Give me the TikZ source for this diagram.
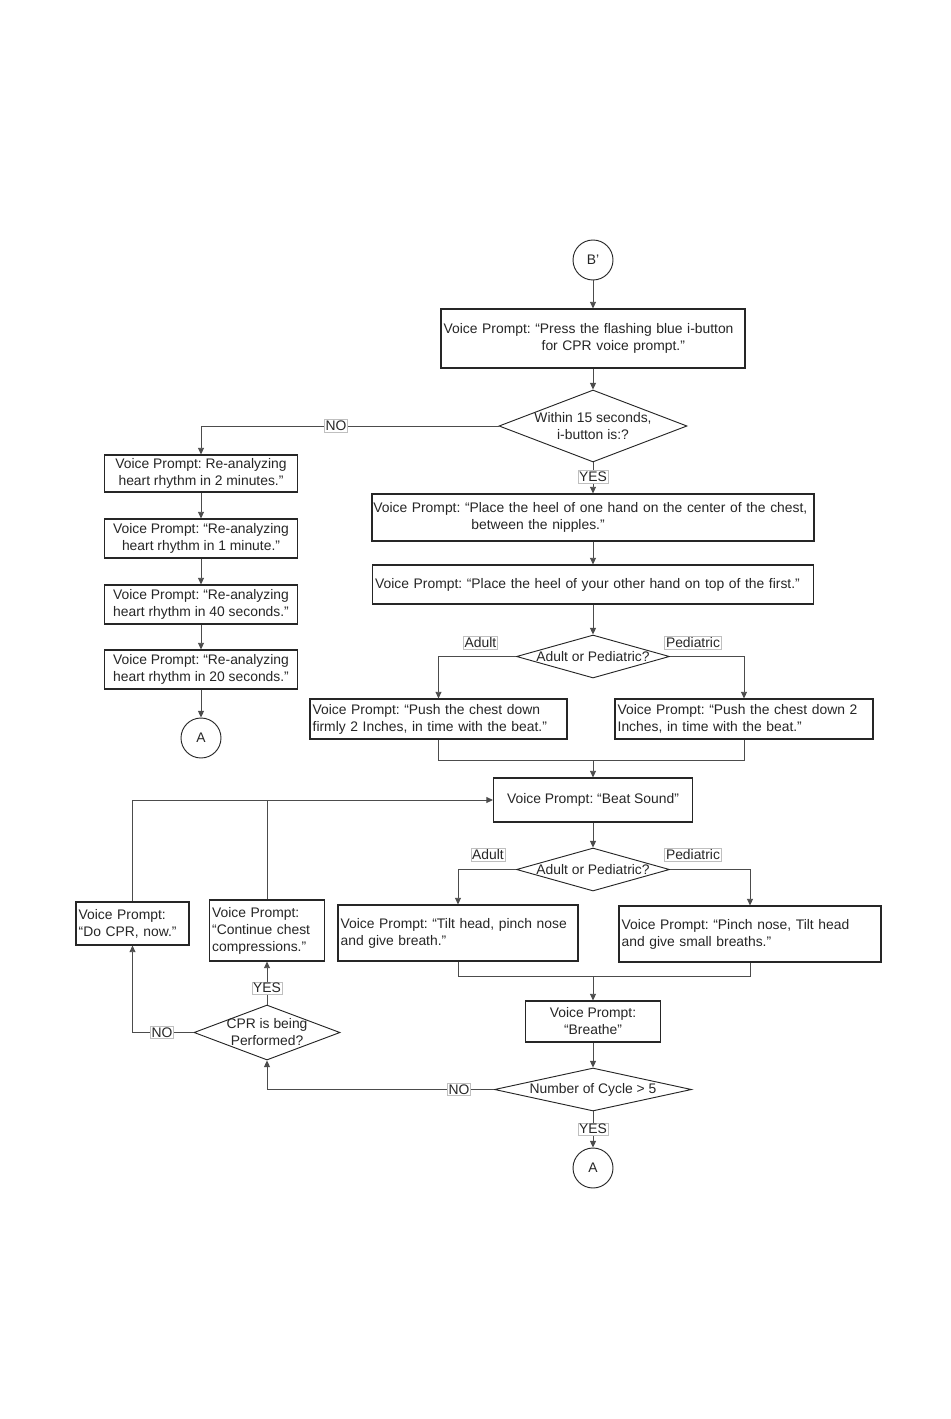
\documentclass[tikz,border=0pt]{standalone}
\usepackage{fontspec}
\setmainfont{Liberation Sans}
\usetikzlibrary{shapes.geometric,arrows.meta}
\frenchspacing
\begin{document}
\begin{tikzpicture}[x=0.75pt,y=-0.75pt,
  font=\fontsize{10.4}{12.75}\selectfont\frenchspacing,
  every node/.style={text=black!85},
  box/.style={draw=black!85, line width=0.8pt, fill=white, inner xsep=2pt, inner ysep=1pt},
  lbox/.style={box, align=left},
  cbox/.style={box, align=center},
  dia/.style={draw=black!85, line width=0.7pt, diamond, inner sep=0pt},
  circ/.style={draw=black!85, line width=0.7pt, circle, minimum size=30pt, inner sep=0pt},
  conn/.style={draw=black!70, line width=0.7pt},
  arr/.style={conn, -{Triangle[width=4.5pt,length=5pt]}},
  tag/.style={draw=black!25, line width=0.4pt, fill=white, inner sep=1pt},
]
\useasboundingbox (0,0) rectangle (950,1419);

% ---- nodes ----
\node[circ] (bp) at (593,260) {B'};
\node[lbox, minimum width=228pt, minimum height=44.25pt, text width=224pt] (b1) at (593,338.5)
  {Voice Prompt: “Press the flashing blue i-button\\\hspace*{73.5pt}for CPR voice prompt.”};
\node[dia, minimum width=141pt, minimum height=54pt] (d1) at (593,426) {};
\node[align=center] (d1t) at (d1) {Within 15 seconds,\\i-button is:?};

\node[cbox, minimum width=144.75pt, minimum height=27.75pt] (l1) at (201,473.5)
  {Voice Prompt: Re-analyzing\\heart rhythm in 2 minutes.”};
\node[cbox, minimum width=144.75pt, minimum height=29.25pt] (l2) at (201,538.5)
  {Voice Prompt: “Re-analyzing\\heart rhythm in 1 minute.”};
\node[cbox, minimum width=144.75pt, minimum height=29.25pt] (l3) at (201,604.5)
  {Voice Prompt: “Re-analyzing\\heart rhythm in 40 seconds.”};
\node[cbox, minimum width=144.75pt, minimum height=29.25pt] (l4) at (201,669.5)
  {Voice Prompt: “Re-analyzing\\heart rhythm in 20 seconds.”};
\node[circ] (a1) at (201,738) {A};

\node[lbox, minimum width=331.5pt, minimum height=35.25pt, text width=329.5pt, inner xsep=1pt] (b2) at (593,517.5)
  {Voice Prompt: “Place the heel of one hand on the center of the chest,\\\hspace*{73.5pt}between the nipples.”};
\node[lbox, minimum width=330.75pt, minimum height=29.25pt, text width=326.75pt] (b3) at (593,584.5)
  {Voice Prompt: “Place the heel of your other hand on top of the first.”};
\node[dia, minimum width=114.75pt, minimum height=32.25pt] (d2) at (593,656.5) {};
\node (d2t) at (d2) {Adult or Pediatric?};

\node[lbox, minimum width=192.75pt, minimum height=30pt, text width=188.75pt] (b4) at (438.5,719)
  {Voice Prompt: “Push the chest down\\firmly 2 Inches, in time with the beat.”};
\node[lbox, minimum width=193.5pt, minimum height=30pt, text width=189.5pt] (b5) at (744,719)
  {Voice Prompt: “Push the chest down 2\\Inches, in time with the beat.”};

\node[cbox, minimum width=149.25pt, minimum height=33pt] (beat) at (593,800)
  {Voice Prompt: “Beat Sound”};
\node[dia, minimum width=114.75pt, minimum height=32.25pt] (d3) at (593,869.5) {};
\node (d3t) at (d3) {Adult or Pediatric?};

\node[lbox, minimum width=180pt, minimum height=42pt, text width=176pt] (b6) at (458,933)
  {Voice Prompt: “Tilt head, pinch nose\\and give breath.”};
\node[lbox, minimum width=196.5pt, minimum height=42pt, text width=192.5pt] (b7) at (750,934)
  {Voice Prompt: “Pinch nose, Tilt head\\and give small breaths.”};

\node[cbox, minimum width=101.25pt, minimum height=30.75pt] (br) at (593,1021.5)
  {Voice Prompt:\\“Breathe”};
\node[dia, minimum width=147.75pt, minimum height=32.25pt] (d4) at (593,1089.5) {};
\node (d4t) at (d4) {Number of Cycle > 5};
\node[circ] (a2) at (593,1168) {A};

\node[dia, minimum width=109.5pt, minimum height=41.25pt] (d5) at (267,1032.5) {};
\node[align=center] (d5t) at (d5) {CPR is being\\Performed?};
\node[lbox, minimum width=84.75pt, minimum height=32.25pt, text width=80.75pt] (b8) at (132.5,923.5)
  {Voice Prompt:\\“Do CPR, now.”};
\node[lbox, minimum width=86.25pt, minimum height=45.75pt, text width=82.25pt] (b9) at (267,930.5)
  {Voice Prompt:\\“Continue chest\\compressions.”};

% ---- connectors ----
\draw[arr] (bp.south) -- (b1.north);
\draw[arr] (b1.south) -- (d1.north);
\draw[arr] (d1.south) -- (b2.north);
\draw[arr] (d1.west) -| (l1.north);
\draw[arr] (l1.south) -- (l2.north);
\draw[arr] (l2.south) -- (l3.north);
\draw[arr] (l3.south) -- (l4.north);
\draw[arr] (l4.south) -- (a1.north);
\draw[arr] (b2.south) -- (b3.north);
\draw[arr] (b3.south) -- (d2.north);
\draw[arr] (d2.west) -| (b4.north);
\draw[arr] (d2.east) -| (b5.north);
\draw[conn] (b4.south) -- ++(0,21) -| (b5.south);
\coordinate (m1) at (593,760);
\draw[arr] (m1) -- (beat.north);
\draw[arr] (beat.south) -- (d3.north);
\draw[arr] (d3.west) -| (b6.north);
\draw[arr] (d3.east) -| (b7.north);
\draw[conn] (b6.south) -- ++(0,15) -| (b7.south);
\coordinate (m2) at (593,976);
\draw[arr] (m2) -- (br.north);
\draw[arr] (br.south) -- (d4.north);
\draw[arr] (d4.south) -- (a2.north);
\draw[arr] (d4.west) -| (d5.south);
\draw[arr] (d5.north) -- (b9.south);
\draw[arr] (d5.west) -| (b8.south);
\draw[arr] (b8.north) |- (beat.west);
\draw[conn] (b9.north) -- (b9.north |- beat.west);

% ---- tags ----
\node[tag] (t1) at (336,426) {NO};
\node[tag] (t2) at (593,477) {YES};
\node[tag] (t3) at (480.5,643) {Adult};
\node[tag] (t4) at (693,643) {Pediatric};
\node[tag] (t5) at (488,855) {Adult};
\node[tag] (t6) at (693,855) {Pediatric};
\node[tag] (t7) at (267,988) {YES};
\node[tag] (t8) at (162,1032.5) {NO};
\node[tag] (t9) at (459,1089.5) {NO};
\node[tag] (t10) at (593,1129) {YES};
\end{tikzpicture}
\end{document}
